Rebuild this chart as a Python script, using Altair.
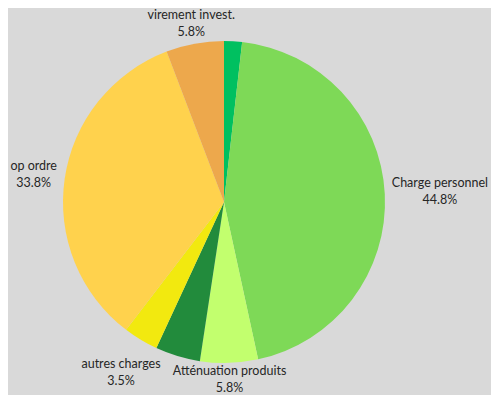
import altair as alt
import pandas as pd

names = ["Atténuation charges", "Charge personnel", "Atténuation produits",
         "Charges financières", "autres charges", "op ordre", "virement invest."]
values = [1.8, 44.8, 5.8, 4.5, 3.5, 33.8, 5.8]
show = [0, 1, 1, 0, 1, 1, 1]
colors = ["#00C060", "#7ED957", "#C2FF6E", "#228B3C", "#F2E90F", "#FFD24D", "#EDA84C"]

df = pd.DataFrame({"name": names, "value": values, "show": show,
                   "order": list(range(len(names)))})

color_scale = alt.Scale(domain=names, range=colors)
CX, CY = 216, 194

src = alt.Chart(df).transform_joinaggregate(
    total="sum(value)"
).transform_window(
    cum="sum(value)", sort=[alt.SortField("order")]
).transform_calculate(
    mid="(datum.cum - datum.value/2) / datum.total",
    pct="format(datum.value, '.1f') + '%'",
)

pie = src.mark_arc(outerRadius=161, stroke=None).encode(
    theta=alt.Theta("value:Q", stack=True),
    order=alt.Order("order:Q"),
    color=alt.Color("name:N", scale=color_scale, legend=None),
    x=alt.value(CX),
    y=alt.value(CY),
)

labels = src.transform_filter("datum.show == 1").transform_calculate(
    lbl="datum.name + '\\n' + datum.pct",
    cosv="cos(datum.mid*2*PI)",
    sinv="sin(datum.mid*2*PI)",
).transform_calculate(
    labR="158 + abs(datum.sinv) * (length(datum.name) * 3.1 + 8) + abs(datum.cosv) * (datum.cosv < 0 ? 17 : 13)",
).transform_calculate(
    lx=f"{CX} + datum.labR * datum.sinv",
    ly=f"{CY} - datum.labR * datum.cosv",
).mark_text(
    lineBreak="\n",
    font="Lato",
    fontSize=12.5,
    color="#262626",
    lineHeight=17,
    align="center",
    baseline="middle",
    dy=-8.5,
).encode(
    text="lbl:N",
    x=alt.X("lx:Q", scale=None, axis=None),
    y=alt.Y("ly:Q", scale=None, axis=None),
)

chart = (pie + labels).properties(
    width=483, height=387,
    autosize=alt.AutoSizeParams(type="none"),
    padding=0,
    background="#D9D9D9",
).configure_view(stroke=None)

chart.save("out.html", embed_options={"renderer": "svg", "actions": False})
